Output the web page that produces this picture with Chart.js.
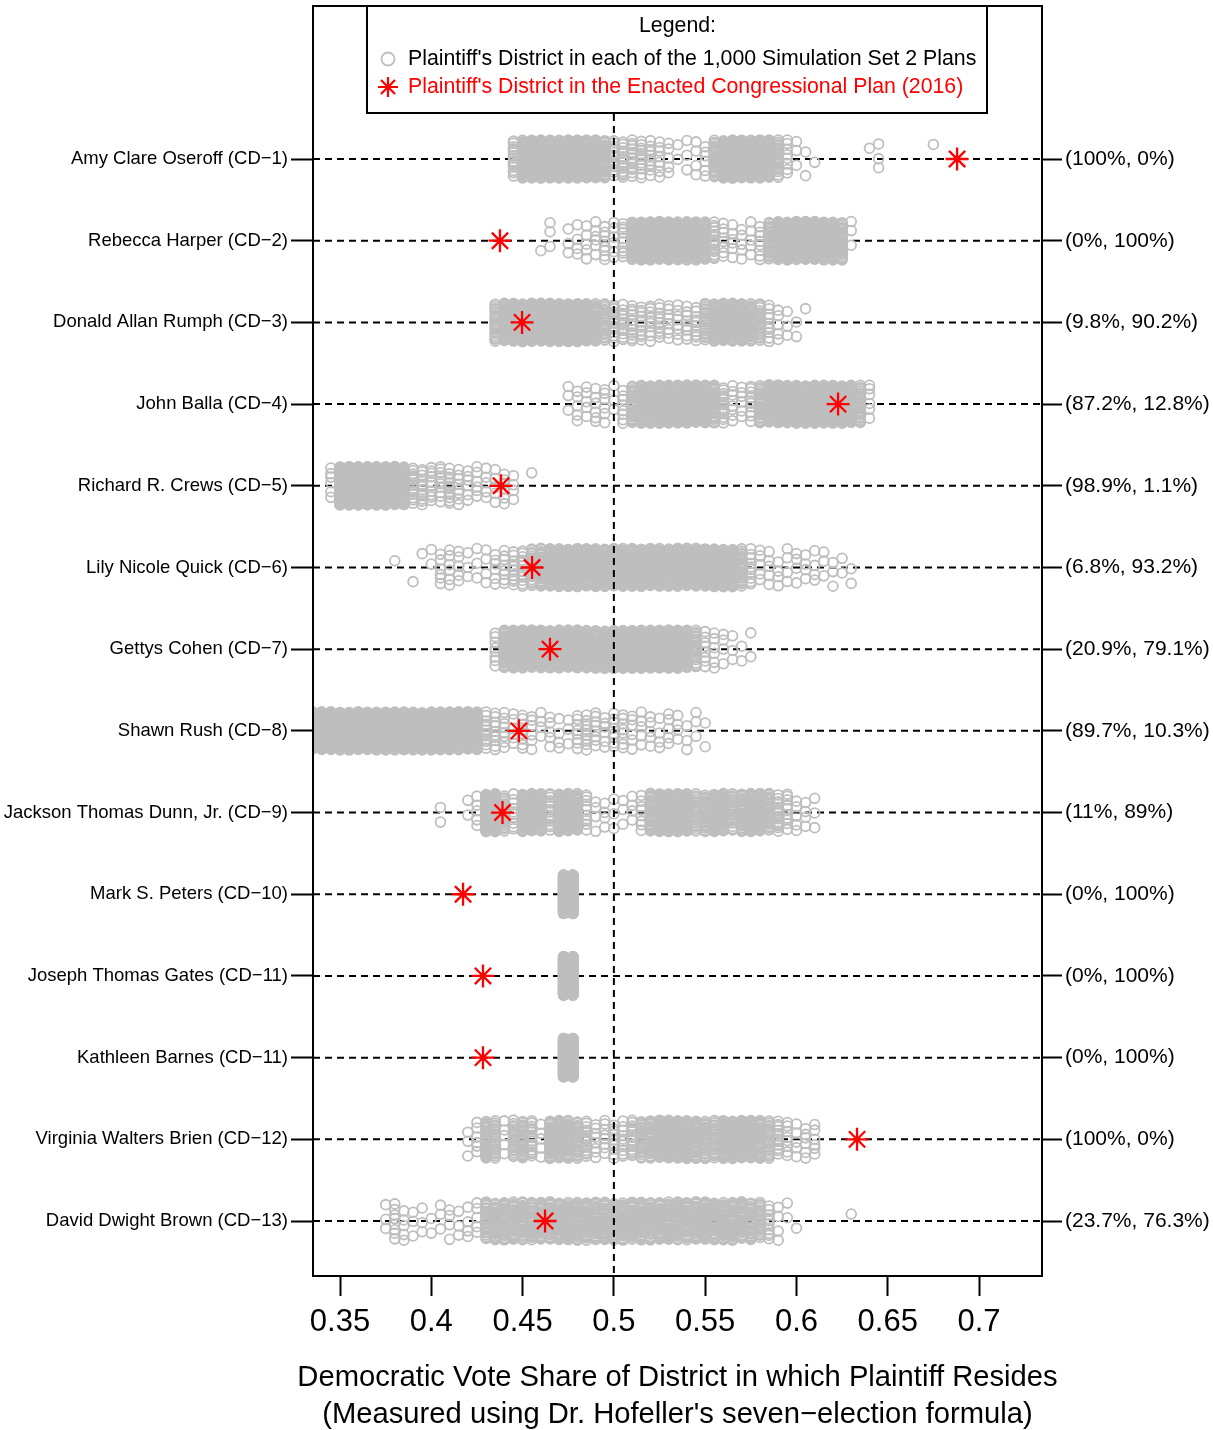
<!DOCTYPE html>
<html>
<head>
<meta charset="utf-8">
<title>Plaintiff districts vs simulation set 2</title>
<script src="https://cdn.jsdelivr.net/npm/chart.js@4.4.1/dist/chart.umd.min.js"></script>
<style>
    body { margin: 0; background: #fff; }
    canvas { display: block; }
</style>
</head>
<body>
<canvas id="strip-chart" width="1213" height="1430"></canvas>
<script>
'use strict';

// Row labels (top to bottom) and the right-hand (% below, % above enacted) labels
const plaintiffNames = [
    'Amy Clare Oseroff (CD\u22121)',
    'Rebecca Harper (CD\u22122)',
    'Donald Allan Rumph (CD\u22123)',
    'John Balla (CD\u22124)',
    'Richard R. Crews (CD\u22125)',
    'Lily Nicole Quick (CD\u22126)',
    'Gettys Cohen (CD\u22127)',
    'Shawn Rush (CD\u22128)',
    'Jackson Thomas Dunn, Jr. (CD\u22129)',
    'Mark S. Peters (CD\u221210)',
    'Joseph Thomas Gates (CD\u221211)',
    'Kathleen Barnes (CD\u221211)',
    'Virginia Walters Brien (CD\u221212)',
    'David Dwight Brown (CD\u221213)'
];
const sharePercents = [
    '(100%, 0%)', '(0%, 100%)', '(9.8%, 90.2%)', '(87.2%, 12.8%)', '(98.9%, 1.1%)',
    '(6.8%, 93.2%)', '(20.9%, 79.1%)', '(89.7%, 10.3%)', '(11%, 89%)', '(0%, 100%)',
    '(0%, 100%)', '(0%, 100%)', '(100%, 0%)', '(23.7%, 76.3%)'
];

// Enacted plan (2016) Democratic vote share, one per row
const enactedShare = [0.688, 0.4376, 0.4497, 0.6228, 0.4382, 0.4552, 0.465,
    0.448, 0.439, 0.4174, 0.4283, 0.4283, 0.6332, 0.4623];

// Simulation set 2: counts of plans per 0.005-wide vote share bin, first bin centre in simStart
const BIN = 0.005;
const simStart = [0.445, 0.460, 0.435, 0.475, 0.345, 0.380, 0.435,
    0.335, 0.405, 0.4725, 0.4725, 0.4725, 0.420, 0.375];
const countsOseroff = [15, 45, 55, 60, 60, 60, 60, 55, 50, 40, 30, 14, 14, 13, 12, 10, 8, 5,
    2, 3, 4, 6, 25, 50, 60, 65, 60, 50, 35, 20, 8, 3, 2, 1, 0, 0, 0, 0, 0, 1, 3, 0, 0, 0, 0, 0, 1];
const countsHarper = [1, 3, 0, 3, 4, 5, 6, 8, 6, 10, 35, 55, 60, 60, 60, 60, 60, 55, 40, 15,
    8, 6, 5, 5, 8, 25, 50, 55, 55, 55, 55, 50, 40, 30, 3];
const countsRumph = [20, 40, 45, 55, 60, 60, 60, 60, 55, 50, 40, 30, 20, 15, 12, 12, 10, 10,
    10, 8, 8, 8, 10, 20, 35, 40, 40, 35, 30, 20, 10, 5, 3, 2, 1];
const countsBalla = [3, 5, 5, 6, 6, 3, 8, 25, 35, 40, 45, 50, 50, 50, 45, 40, 30, 15, 8, 6,
    10, 25, 40, 45, 45, 45, 45, 45, 45, 45, 45, 40, 25, 6];
const countsCrews = [6, 90, 120, 120, 120, 120, 120, 100, 40, 15, 12, 10, 10, 12, 8, 6, 6,
    5, 5, 6, 4, 0, 1];
const countsQuick = [1, 0, 1, 1, 2, 6, 6, 5, 3, 3, 4, 6, 8, 10, 12, 20, 30, 40, 40, 40, 40,
    40, 40, 40, 40, 40, 40, 40, 40, 40, 40, 40, 40, 40, 40, 40, 40, 35, 25, 10, 5, 5, 4, 4, 4,
    4, 4, 3, 3, 2, 2];
const countsCohen = [8, 30, 40, 45, 45, 45, 45, 45, 40, 40, 35, 35, 35, 45, 55, 55, 55, 55,
    55, 55, 50, 40, 20, 8, 6, 4, 3, 2, 2];
const countsRush = [35, 50, 50, 50, 50, 50, 50, 50, 50, 50, 50, 50, 50, 50, 50, 50, 50, 50,
    40, 12, 10, 8, 6, 8, 6, 4, 5, 4, 3, 8, 10, 8, 6, 8, 8, 6, 5, 5, 4, 5, 4, 3, 3, 2];
const countsDunn = [2, 0, 0, 2, 5, 45, 50, 20, 10, 40, 45, 35, 15, 40, 40, 30, 10, 4, 4, 3,
    3, 4, 8, 30, 50, 50, 50, 40, 20, 25, 35, 35, 20, 30, 35, 35, 25, 15, 10, 5, 4, 3];
const countsPeters = [500, 500];
const countsGates = [500, 500];
const countsBarnes = [500, 500];
const countsBrien = [3, 6, 30, 20, 5, 20, 25, 15, 5, 30, 35, 30, 25, 15, 8, 8, 10, 10, 15,
    25, 30, 40, 45, 45, 40, 30, 25, 25, 35, 40, 40, 35, 30, 20, 12, 8, 5, 6, 6];
const countsBrown = [3, 8, 5, 3, 3, 2, 3, 4, 3, 4, 5, 25, 28, 28, 28, 28, 28, 28, 30, 30,
    30, 30, 30, 30, 30, 30, 30, 30, 30, 30, 30, 30, 30, 30, 30, 30, 30, 30, 30, 28, 25, 20,
    10, 4, 2, 1, 0, 0, 0, 0, 0, 1];
const simCounts = [countsOseroff, countsHarper, countsRumph, countsBalla, countsCrews,
    countsQuick, countsCohen, countsRush, countsDunn, countsPeters, countsGates,
    countsBarnes, countsBrien, countsBrown];

// Axis ticks
const xTicks = [0.35, 0.4, 0.45, 0.5, 0.55, 0.6, 0.65, 0.7];
const xTickLabels = ['0.35', '0.4', '0.45', '0.5', '0.55', '0.6', '0.65', '0.7'];
const xTitle = ['Democratic Vote Share of District in which Plaintiff Resides',
    '(Measured using Dr. Hofeller\'s seven\u2212election formula)'];
const simLabel = 'Plaintiff\'s District in each of the 1,000 Simulation Set 2 Plans';
const enactedLabel = 'Plaintiff\'s District in the Enacted Congressional Plan (2016)';

// Plot window
const X_MIN = 0.3352;
const X_MAX = 0.7345;
const Y_MIN = -0.873;
const Y_MAX = 14.673;
const JITTER = 0.235;

const FONT = '"Liberation Sans", Arial, Helvetica, sans-serif';
const GREY = '#BEBEBE';
const RED = '#FF0000';

Chart.defaults.font.family = FONT;
Chart.defaults.color = '#000';

/**
 * Deterministic vertical jitter so stacked plans do not sit on one spot
 */
function jitter(k, bin, row) {
    const f = ((k + 1) * 0.6180339887 + bin * 0.2718 + row * 0.1414) % 1;
    return (f - 0.5) * 2 * JITTER;
}

const simPoints = [];
simCounts.forEach(function(counts, r) {
    counts.forEach(function(n, b) {
        const x = +(simStart[r] + b * BIN).toFixed(4);
        for (let k = 0; k < n; k++) {
            simPoints.push({ x: x, y: r + 1 + jitter(k, b, r) });
        }
    });
});

const enactedPoints = enactedShare.map(function(v, i) {
    return { x: v, y: i + 1 };
});

// Dashed guide line for each plaintiff row
const rowLines = plaintiffNames.map(function(name, i) {
    return {
        data: [{ x: X_MIN, y: i + 1 }, { x: X_MAX, y: i + 1 }],
        showLine: true,
        borderColor: '#000',
        borderWidth: 2,
        borderDash: [7, 5],
        pointRadius: 0,
        order: 4
    };
});

/**
 * Vertical axes: keep the plot box flush with the layout, no label padding
 */
function fitSide(width) {
    return function(scale) {
        scale.width = width;
        scale.paddingTop = 0;
        scale.paddingBottom = 0;
    };
}

/**
 * Frame round the plot, boxed legend at the top, two-line x title under the plot
 */
const framePlugin = {
    id: 'frameAndLegend',
    afterDatasetsDraw: function(chart) {
        const ctx = chart.ctx;
        const area = chart.chartArea;
        const cx = (area.left + area.right) / 2;
        const boxLeft = area.left + 54;
        const boxWidth = 620;
        const boxTop = area.top;
        const boxHeight = 107;

        ctx.save();
        ctx.fillStyle = '#fff';
        ctx.fillRect(boxLeft, boxTop, boxWidth, boxHeight);
        ctx.lineWidth = 2;
        ctx.strokeStyle = '#000';
        ctx.strokeRect(boxLeft, boxTop, boxWidth, boxHeight);

        ctx.font = '21.3px ' + FONT;
        ctx.textBaseline = 'middle';
        ctx.textAlign = 'center';
        ctx.fillStyle = '#000';
        ctx.fillText('Legend:', cx, boxTop + 20);

        const symX = boxLeft + 21;
        const textX = boxLeft + 41;
        const row1 = boxTop + 53;
        const row2 = boxTop + 81;

        ctx.fillStyle = 'rgba(0,0,0,0)';
        ctx.strokeStyle = GREY;
        ctx.lineWidth = 1.8;
        Chart.helpers.drawPoint(ctx, { pointStyle: 'circle', radius: 6.5, borderWidth: 1.8 }, symX, row1);
        ctx.strokeStyle = RED;
        ctx.lineWidth = 2.2;
        Chart.helpers.drawPoint(ctx, { pointStyle: 'star', radius: 10, borderWidth: 2.2 }, symX, row2);

        ctx.textAlign = 'left';
        ctx.fillStyle = '#000';
        ctx.fillText(simLabel, textX, row1);
        ctx.fillStyle = RED;
        ctx.fillText(enactedLabel, textX, row2);
        ctx.restore();
    },
    afterDraw: function(chart) {
        const ctx = chart.ctx;
        const area = chart.chartArea;
        const cx = (area.left + area.right) / 2;
        ctx.save();
        ctx.lineWidth = 2;
        ctx.strokeStyle = '#000';
        ctx.strokeRect(area.left, area.top, area.right - area.left, area.bottom - area.top);

        ctx.font = '29.2px ' + FONT;
        ctx.fillStyle = '#000';
        ctx.textAlign = 'center';
        ctx.textBaseline = 'middle';
        xTitle.forEach(function(line, i) {
            ctx.fillText(line, cx, area.bottom + 102 + i * 37);
        });
        ctx.restore();
    }
};

const ctx = document.getElementById('strip-chart');

new Chart(ctx, {
    type: 'scatter',
    data: {
        datasets: rowLines.concat([
            {
                label: simLabel,
                data: simPoints,
                pointStyle: 'circle',
                pointRadius: 4.9,
                pointBorderWidth: 1.8,
                pointBorderColor: GREY,
                pointBackgroundColor: 'rgba(0,0,0,0)',
                order: 3
            },
            {
                data: [{ x: 0.5, y: Y_MIN }, { x: 0.5, y: Y_MAX }],
                showLine: true,
                borderColor: '#000',
                borderWidth: 2,
                borderDash: [7, 5],
                pointRadius: 0,
                order: 2
            },
            {
                label: enactedLabel,
                data: enactedPoints,
                pointStyle: 'star',
                pointRadius: 11.5,
                pointBorderWidth: 2.3,
                pointBorderColor: RED,
                pointBackgroundColor: RED,
                order: 1
            }
        ])
    },
    options: {
        responsive: false,
        animation: false,
        devicePixelRatio: 1,
        events: [],
        layout: {
            autoPadding: false,
            padding: { top: 6, left: 0, right: 0, bottom: 0 }
        },
        plugins: {
            legend: { display: false },
            tooltip: { enabled: false },
            title: { display: false }
        },
        scales: {
            x: {
                type: 'linear',
                position: 'bottom',
                min: X_MIN,
                max: X_MAX,
                afterBuildTicks: function(scale) {
                    scale.ticks = xTicks.map(function(v) { return { value: v }; });
                },
                afterFit: function(scale) {
                    scale.height = 154;
                },
                ticks: {
                    autoSkip: false,
                    maxRotation: 0,
                    padding: 8,
                    color: '#000',
                    font: { size: 31 },
                    callback: function(value, index) {
                        return xTickLabels[index];
                    }
                },
                grid: {
                    drawOnChartArea: false,
                    tickLength: 20,
                    tickWidth: 2,
                    tickColor: '#000'
                },
                border: { display: false }
            },
            y: {
                type: 'linear',
                position: 'left',
                reverse: true,
                min: Y_MIN,
                max: Y_MAX,
                afterBuildTicks: function(scale) {
                    scale.ticks = plaintiffNames.map(function(n, i) { return { value: i + 1 }; });
                },
                afterFit: fitSide(313),
                ticks: {
                    autoSkip: false,
                    padding: 3,
                    color: '#000',
                    font: { size: 18.5 },
                    callback: function(value) {
                        return plaintiffNames[value - 1];
                    }
                },
                grid: {
                    drawOnChartArea: false,
                    tickLength: 22,
                    tickWidth: 2,
                    tickColor: '#000'
                },
                border: { display: false }
            },
            y2: {
                type: 'linear',
                position: 'right',
                reverse: true,
                min: Y_MIN,
                max: Y_MAX,
                afterBuildTicks: function(scale) {
                    scale.ticks = sharePercents.map(function(p, i) { return { value: i + 1 }; });
                },
                afterFit: fitSide(171),
                ticks: {
                    autoSkip: false,
                    padding: 3,
                    color: '#000',
                    font: { size: 21 },
                    callback: function(value) {
                        return sharePercents[value - 1];
                    }
                },
                grid: {
                    drawOnChartArea: false,
                    tickLength: 20,
                    tickWidth: 2,
                    tickColor: '#000'
                },
                border: { display: false }
            }
        }
    },
    plugins: [framePlugin]
});
</script>
</body>
</html>
